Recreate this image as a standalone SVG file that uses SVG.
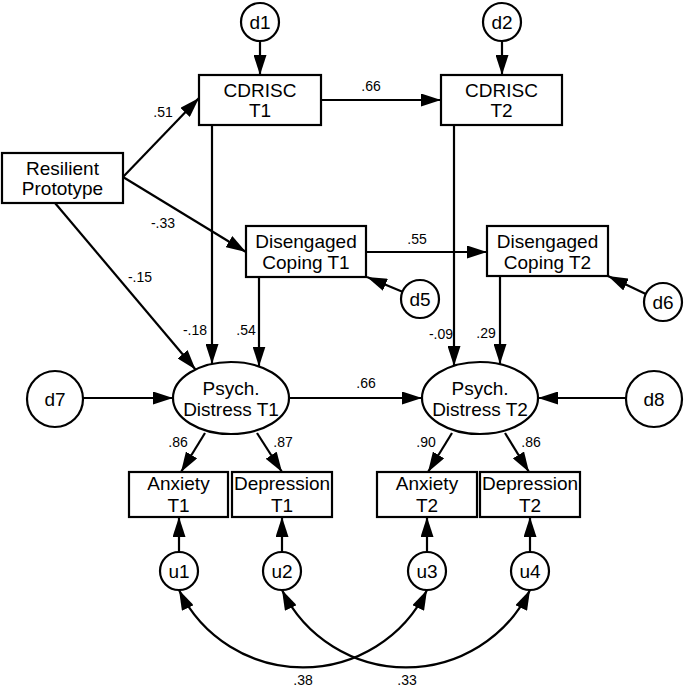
<svg xmlns="http://www.w3.org/2000/svg" width="685" height="687" viewBox="0 0 685 687">
<defs>
<marker id="ah" markerUnits="userSpaceOnUse" markerWidth="20" markerHeight="13" refX="20" refY="6.5" orient="auto-start-reverse" viewBox="0 0 20 13">
<path d="M0,0 L20,6.5 L0,13 z" fill="#000"/>
</marker>
<style>
.box{fill:#fff;stroke:#000;stroke-width:2.2}
.lat{fill:#fff;stroke:#000;stroke-width:2.2}
.t{font-family:"Liberation Sans",Arial,sans-serif;font-size:19px;fill:#000;text-anchor:middle}
.l{font-family:"Liberation Sans",Arial,sans-serif;font-size:14px;fill:#000;text-anchor:middle}
.c{fill:none;stroke:#000;stroke-width:2.2;marker-end:url(#ah)}
.cc{fill:none;stroke:#000;stroke-width:2.2;marker-end:url(#ah);marker-start:url(#ah)}
</style>
</defs>
<rect width="685" height="687" fill="#fff"/>
<g id="connectors">
<line class="c" x1="260" y1="41" x2="260" y2="75"/>
<line class="c" x1="502" y1="41" x2="502" y2="75"/>
<line class="c" x1="123" y1="177" x2="199" y2="98"/>
<line class="c" x1="321" y1="100" x2="441" y2="100"/>
<line class="c" x1="123" y1="177" x2="246" y2="252"/>
<line class="c" x1="55" y1="203" x2="195.5" y2="369.5"/>
<line class="c" x1="212" y1="125" x2="212" y2="364"/>
<line class="c" x1="259" y1="277" x2="259" y2="366.5"/>
<line class="c" x1="366" y1="252" x2="487" y2="252"/>
<line class="c" x1="402.4" y1="291.8" x2="367" y2="277"/>
<line class="c" x1="645.8" y1="293.9" x2="608" y2="276"/>
<line class="c" x1="454" y1="125" x2="454" y2="366"/>
<line class="c" x1="500" y1="276" x2="500" y2="364"/>
<line class="c" x1="83" y1="398" x2="173" y2="398"/>
<line class="c" x1="289" y1="398" x2="422" y2="398"/>
<line class="c" x1="626" y1="398" x2="538" y2="398"/>
<line class="c" x1="205" y1="433" x2="181" y2="472"/>
<line class="c" x1="257" y1="433" x2="282" y2="472"/>
<line class="c" x1="452" y1="433" x2="428" y2="472"/>
<line class="c" x1="505" y1="433" x2="529" y2="472"/>
<line class="c" x1="179" y1="552" x2="179" y2="517"/>
<line class="c" x1="282" y1="552" x2="282" y2="517"/>
<line class="c" x1="427" y1="552" x2="427" y2="517"/>
<line class="c" x1="530" y1="552" x2="530" y2="517"/>
<path class="cc" d="M179,590 A138,138 0 0 0 427,590"/>
<path class="cc" d="M282,590 A138,138 0 0 0 530,590"/>
</g>
<g id="labels">
<text class="l" x="163" y="117">.51</text>
<text class="l" x="163" y="228">-.33</text>
<text class="l" x="371" y="91">.66</text>
<text class="l" x="417" y="244">.55</text>
<text class="l" x="140" y="282">-.15</text>
<text class="l" x="195" y="335">-.18</text>
<text class="l" x="246" y="335">.54</text>
<text class="l" x="441" y="339">-.09</text>
<text class="l" x="486" y="338">.29</text>
<text class="l" x="366" y="388">.66</text>
<text class="l" x="178" y="447">.86</text>
<text class="l" x="283" y="447">.87</text>
<text class="l" x="426" y="447">.90</text>
<text class="l" x="531" y="447">.86</text>
<text class="l" x="303" y="685">.38</text>
<text class="l" x="407" y="685">.33</text>
</g>
<g id="d1"><circle class="lat" cx="260" cy="22" r="19"/><text class="t" x="260" y="28.5">d1</text></g>
<g id="d2"><circle class="lat" cx="502" cy="22" r="19"/><text class="t" x="502" y="28.5">d2</text></g>
<g id="d5"><circle class="lat" cx="420" cy="299" r="19"/><text class="t" x="420" y="305.5">d5</text></g>
<g id="d6"><circle class="lat" cx="663" cy="302" r="19"/><text class="t" x="663" y="308.5">d6</text></g>
<g id="d7"><circle class="lat" cx="55" cy="399" r="28"/><text class="t" x="55" y="405.5">d7</text></g>
<g id="d8"><circle class="lat" cx="654" cy="399" r="28"/><text class="t" x="654" y="405.5">d8</text></g>
<g id="u1"><circle class="lat" cx="179" cy="571" r="19"/><text class="t" x="179" y="577.5">u1</text></g>
<g id="u2"><circle class="lat" cx="282" cy="571" r="19"/><text class="t" x="282" y="577.5">u2</text></g>
<g id="u3"><circle class="lat" cx="427" cy="571" r="19"/><text class="t" x="427" y="577.5">u3</text></g>
<g id="u4"><circle class="lat" cx="530" cy="571" r="19"/><text class="t" x="530" y="577.5">u4</text></g>
<g id="cdrisc1"><rect class="box" x="199" y="75" width="122" height="50"/><text class="t" x="260" y="96.5">CDRISC</text><text class="t" x="260" y="117">T1</text></g>
<g id="cdrisc2"><rect class="box" x="441" y="75" width="121" height="50"/><text class="t" x="501.5" y="96.5">CDRISC</text><text class="t" x="501.5" y="117">T2</text></g>
<g id="resilient"><rect class="box" x="2" y="153" width="121" height="50"/><text class="t" x="62.5" y="175">Resilient</text><text class="t" x="62.5" y="195">Prototype</text></g>
<g id="dc1"><rect class="box" x="246" y="226" width="120" height="51"/><text class="t" x="306" y="248">Disengaged</text><text class="t" x="306" y="269">Coping T1</text></g>
<g id="dc2"><rect class="box" x="487" y="226" width="121" height="50"/><text class="t" x="547.5" y="248">Disengaged</text><text class="t" x="547.5" y="269">Coping T2</text></g>
<g id="pd1"><ellipse class="lat" cx="231" cy="398" rx="58" ry="36"/><text class="t" x="231" y="395">Psych.</text><text class="t" x="231" y="416">Distress T1</text></g>
<g id="pd2"><ellipse class="lat" cx="480" cy="398" rx="58" ry="36"/><text class="t" x="480" y="395">Psych.</text><text class="t" x="480" y="416">Distress T2</text></g>
<g id="anx1"><rect class="box" x="129" y="472" width="99" height="45"/><text class="t" x="178.5" y="490">Anxiety</text><text class="t" x="178.5" y="512">T1</text></g>
<g id="dep1"><rect class="box" x="232" y="472" width="100" height="45"/><text class="t" x="282" y="490">Depression</text><text class="t" x="282" y="512">T1</text></g>
<g id="anx2"><rect class="box" x="377" y="472" width="100" height="45"/><text class="t" x="427" y="490">Anxiety</text><text class="t" x="427" y="512">T2</text></g>
<g id="dep2"><rect class="box" x="480" y="472" width="100" height="45"/><text class="t" x="530" y="490">Depression</text><text class="t" x="530" y="512">T2</text></g>
</svg>
